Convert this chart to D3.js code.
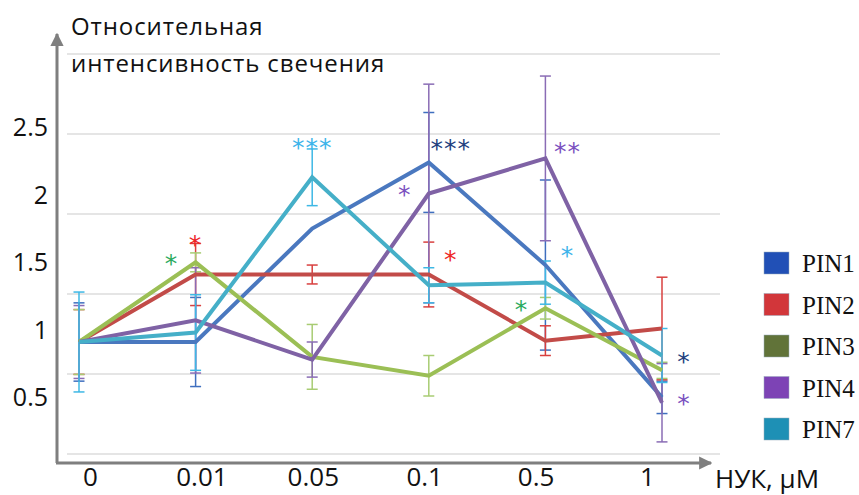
<!DOCTYPE html>
<html>
<head>
<meta charset="utf-8">
<script src="https://cdn.jsdelivr.net/npm/d3@7"></script>
<style>
  body { margin: 0; background: #fff; }
  svg { display: block; font-family: "Open Sans", sans-serif; }
</style>
</head>
<body>
<div id="chart"></div>
<script>
// concentrations of NAA (x categories)
const doses = ["0", "0.01", "0.05", "0.1", "0.5", "1"];
const series = ["PIN1", "PIN2", "PIN3", "PIN4", "PIN7"];

// relative fluorescence intensity
const pin1 = [1.00, 1.00, 1.84, 2.33, 1.57, 0.59];
const pin2 = [1.00, 1.50, 1.50, 1.50, 1.01, 1.10];
const pin3 = [1.00, 1.59, 0.89, 0.75, 1.25, 0.79];
const pin4 = [1.00, 1.16, 0.87, 2.10, 2.36, 0.55];
const pin7 = [1.00, 1.07, 2.22, 1.42, 1.44, 0.90];

// error bar half widths
const pin1Err = [0.29, 0.33, 0.00, 0.37, 0.63, 0.12];
const pin2Err = [0.24, 0.23, 0.07, 0.24, 0.11, 0.38];
const pin3Err = [0.24, 0.07, 0.24, 0.15, 0.08, 0.06];
const pin4Err = [0.27, 0.39, 0.13, 0.81, 0.61, 0.29];
const pin7Err = [0.37, 0.28, 0.21, 0.13, 0.16, 0.20];

const yTicks = [0.5, 1, 1.5, 2, 2.5];
const gridLines = [0, 1, 2, 3, 4, 5];

// significance marks: series, dose, level (value units), text, side
const stars = [
  {s: "PIN3", d: "0.01", v: 1.61, t: "*", side: "left"},
  {s: "PIN2", d: "0.01", v: 1.75, t: "*", side: "mid"},
  {s: "PIN7", d: "0.05", v: 2.47, t: "***", side: "mid"},
  {s: "PIN4", d: "0.1", v: 2.12, t: "*", side: "left"},
  {s: "PIN1", d: "0.1", v: 2.46, t: "***", side: "right"},
  {s: "PIN2", d: "0.1", v: 1.64, t: "*", side: "right"},
  {s: "PIN4", d: "0.5", v: 2.44, t: "**", side: "right"},
  {s: "PIN7", d: "0.5", v: 1.67, t: "*", side: "right"},
  {s: "PIN3", d: "0.5", v: 1.27, t: "*", side: "left"},
  {s: "PIN1", d: "1", v: 0.88, t: "*", side: "right"},
  {s: "PIN4", d: "1", v: 0.57, t: "*", side: "right"}
];

const values = {PIN1: pin1, PIN2: pin2, PIN3: pin3, PIN4: pin4, PIN7: pin7};
const errors = {PIN1: pin1Err, PIN2: pin2Err, PIN3: pin3Err, PIN4: pin4Err, PIN7: pin7Err};

const lineColor = {PIN1: "#4a78bf", PIN2: "#c24b48", PIN3: "#9bbf55", PIN4: "#7f62a5", PIN7: "#45afc8"};
const errColor = {PIN1: "#3f6fbf", PIN2: "#d9403f", PIN3: "#a8cc73", PIN4: "#8a6cb5", PIN7: "#3eb8e5"};
const legendColor = {PIN1: "#2150b6", PIN2: "#d2363a", PIN3: "#617339", PIN4: "#7d43b5", PIN7: "#1e90b5"};
const starColor = {PIN1: "#22407e", PIN2: "#ee2626", PIN3: "#2aab5e", PIN4: "#7a50c0", PIN7: "#3db4ea"};

const W = 859, H = 495;

const svg = d3.select("#chart").append("svg")
  .attr("width", W)
  .attr("height", H);

const x = d3.scalePoint().domain(doses).range([79, 662]);
const xLabel = d3.scalePoint().domain(doses).range([90, 647]);
const y = d3.scaleLinear().domain([0, 3]).range([477, 72]);
const grid = d3.scaleLinear().domain([0, 5]).range([454, 54]);
const legendY = d3.scalePoint().domain(series).range([263, 429]);

// gridlines
svg.append("g").selectAll("line")
  .data(gridLines)
  .enter().append("line")
  .attr("x1", 67).attr("x2", 720)
  .attr("y1", d => grid(d)).attr("y2", d => grid(d))
  .attr("stroke", "#dcdcdc")
  .attr("stroke-width", 1.5);

// axes with arrows
const defs = svg.append("defs");
defs.append("marker")
  .attr("id", "arrow")
  .attr("viewBox", "0 0 10 10")
  .attr("refX", 9).attr("refY", 5)
  .attr("markerWidth", 4.4).attr("markerHeight", 4.4)
  .attr("markerUnits", "strokeWidth")
  .attr("orient", "auto")
  .append("path")
  .attr("d", "M0,0L10,5L0,10Z")
  .attr("fill", "#7f7f7f");

svg.append("path")
  .attr("d", "M57,463L57,34")
  .attr("stroke", "#7f7f7f").attr("stroke-width", 3).attr("fill", "none")
  .attr("marker-end", "url(#arrow)");
svg.append("path")
  .attr("d", "M56,463L711,463")
  .attr("stroke", "#7f7f7f").attr("stroke-width", 3).attr("fill", "none")
  .attr("marker-end", "url(#arrow)");

// tick labels
const yAxis = svg.append("g")
  .attr("transform", "translate(48,-12)")
  .call(d3.axisLeft(y).tickValues(yTicks).tickSize(0).tickPadding(0).tickFormat(d3.format("")));
yAxis.select(".domain").remove();
yAxis.selectAll("text")
  .attr("font-size", 25)
  .attr("font-family", "Open Sans, sans-serif")
  .attr("fill", "#111");

const xAxis = svg.append("g")
  .attr("transform", "translate(0,468)")
  .call(d3.axisBottom(xLabel).tickSize(0).tickPadding(0));
xAxis.select(".domain").remove();
xAxis.selectAll("text")
  .attr("font-size", 26)
  .attr("font-family", "Open Sans, sans-serif")
  .attr("fill", "#111");

svg.append("text")
  .attr("x", 715).attr("y", 488)
  .attr("font-size", 26)
  .attr("fill", "#111")
  .text("НУК, µM");

// axis title
const title = svg.append("text")
  .attr("font-size", 24)
  .attr("letter-spacing", 0.9)
  .attr("fill", "#111");
title.append("tspan").attr("x", 71).attr("y", 35).text("Относительная");
title.append("tspan").attr("x", 71).attr("y", 72).text("интенсивность свечения");

// error bars
const errData = [];
series.forEach(s => doses.forEach((d, i) => {
  if (errors[s][i] > 0) errData.push({s, d, v: values[s][i], e: errors[s][i]});
}));

const eb = svg.append("g").selectAll("g")
  .data(errData)
  .enter().append("g")
  .attr("stroke", d => errColor[d.s])
  .attr("stroke-width", 1.5);
eb.append("line")
  .attr("x1", d => x(d.d)).attr("x2", d => x(d.d))
  .attr("y1", d => y(d.v + d.e)).attr("y2", d => y(d.v - d.e));
eb.append("line")
  .attr("x1", d => x(d.d) - 5.5).attr("x2", d => x(d.d) + 5.5)
  .attr("y1", d => y(d.v + d.e)).attr("y2", d => y(d.v + d.e));
eb.append("line")
  .attr("x1", d => x(d.d) - 5.5).attr("x2", d => x(d.d) + 5.5)
  .attr("y1", d => y(d.v - d.e)).attr("y2", d => y(d.v - d.e));

// lines
const line = d3.line()
  .x((v, i) => x(doses[i]))
  .y(v => y(v));

svg.append("g").selectAll("path")
  .data(series)
  .enter().append("path")
  .attr("d", s => line(values[s]))
  .attr("fill", "none")
  .attr("stroke", s => lineColor[s])
  .attr("stroke-width", 4)
  .attr("stroke-linejoin", "miter");

// significance stars
svg.append("g").selectAll("text")
  .data(stars)
  .enter().append("text")
  .attr("x", d => x(d.d) + (d.side === "left" ? -24 : d.side === "right" ? 22 : 0))
  .attr("y", d => y(d.v) + 12)
  .attr("text-anchor", "middle")
  .attr("font-size", 25)
  .attr("font-family", "DejaVu Sans, sans-serif")
  .attr("letter-spacing", 1)
  .attr("fill", d => starColor[d.s])
  .text(d => d.t);

// legend
const lg = svg.append("g").selectAll("g")
  .data(series)
  .enter().append("g")
  .attr("transform", s => `translate(764,${legendY(s)})`);
lg.append("rect")
  .attr("x", 0).attr("y", -11)
  .attr("width", 25).attr("height", 22)
  .attr("fill", s => legendColor[s])
  .attr("stroke", "#9ab")
  .attr("stroke-width", 0.5);
lg.append("text")
  .attr("x", 38).attr("y", 9)
  .attr("font-family", "Liberation Serif, serif")
  .attr("font-size", 25)
  .attr("fill", "#111")
  .text(s => s);
</script>
</body>
</html>
